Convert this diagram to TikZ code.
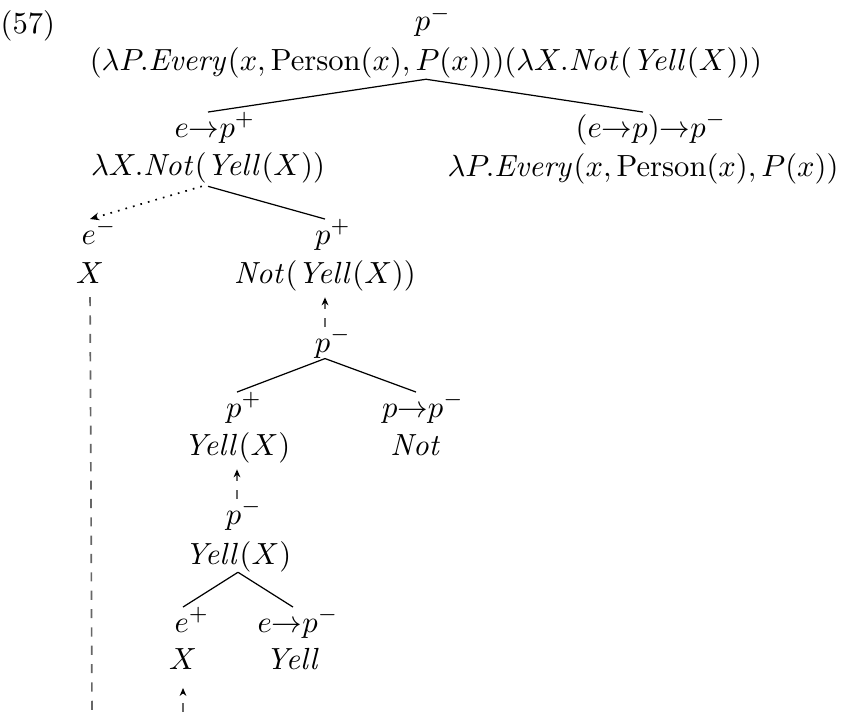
\documentclass[tikz,border=0pt]{standalone}
\usetikzlibrary{arrows.meta}
\begin{document}
\begin{tikzpicture}[x=0.327pt,y=-0.327pt,
  lbl/.style={anchor=base,inner sep=0pt},
  edge/.style={line width=0.4pt},
  mv/.style={dashed, draw=black!60, line width=0.55pt},
  mvarrow/.style={mv, -{Stealth[length=2.6pt,width=2.2pt,color=black]}},
  dotarrow/.style={dotted, line width=0.55pt, -{Stealth[length=3pt,width=2.5pt]}}]
\useasboundingbox (0,0) rectangle (844,712);
% example number
\node[lbl,anchor=base west] (num) at (0,34) {(57)};
% root
\node[lbl] (rT) at (433,31) {$p^-$};
\node[lbl] (r) at (426,71) {$(\lambda P.\mathit{Every}(x,\mathrm{Person}(x),P(x)))(\lambda X.\mathit{Not}(\mathit{Yell}(X)))$};
% level 1
\node[lbl] (aT) at (215,137) {$e{\rightarrow}p^+$};
\node[lbl] (a) at (208,175) {$\lambda X.\mathit{Not}(\mathit{Yell}(X))$};
\node[lbl] (bT) at (651,137) {$(e{\rightarrow}p){\rightarrow}p^-$};
\node[lbl] (b) at (643,176) {$\lambda P.\mathit{Every}(x,\mathrm{Person}(x),P(x))$};
% level 2
\node[lbl] (cT) at (99,244) {$e^-$};
\node[lbl] (c) at (90,283) {$X$};
\node[lbl] (dT) at (333,244) {$p^+$};
\node[lbl] (d) at (325,283) {$\mathit{Not}(\mathit{Yell}(X))$};
% level 3
\node[lbl] (eT) at (333,352) {$p^-$};
\node[lbl] (fT) at (244,417) {$p^+$};
\node[lbl] (f) at (237,455) {$\mathit{Yell}(X)$};
\node[lbl] (gT) at (423,417) {$p{\rightarrow}p^-$};
\node[lbl] (g) at (416,455) {$\mathit{Not}$};
% level 4
\node[lbl] (hT) at (244,524) {$p^-$};
\node[lbl] (h) at (238,564) {$\mathit{Yell}(X)$};
\node[lbl] (iT) at (192,632) {$e^+$};
\node[lbl] (i) at (183,669) {$X$};
\node[lbl] (jT) at (298,632) {$e{\rightarrow}p^-$};
\node[lbl] (j) at (293,669) {$\mathit{Yell}$};
% free ends at the bottom edge
\coordinate (cEnd) at (92,712);
\coordinate (iEnd) at (183,712);
% tree edges
\draw[edge] (r.south) -- (a |- aT.north);
\draw[edge] (r.south) -- (b |- bT.north);
\draw[edge] ([yshift=-1pt]a.south) -- (d |- dT.north);
\draw[dotarrow] ([xshift=-2pt,yshift=-1pt]a.south) -- (c |- cT.north);
\draw[mvarrow,shorten >=2pt] (d |- eT.north) -- (d.south);
\draw[edge] (d |- eT.south) -- (f |- fT.north);
\draw[edge] (d |- eT.south) -- (g |- gT.north);
\draw[mvarrow,shorten >=2pt] (f |- hT.north) -- (f.south);
\draw[edge] (h.south) -- (i |- iT.north);
\draw[edge] (h.south) -- (j |- jT.north);
\draw[mvarrow,shorten >=6pt] (iEnd) -- (i.south);
\draw[mv,shorten <=4.4pt] (c.south) -- (cEnd);
\end{tikzpicture}
\end{document}
